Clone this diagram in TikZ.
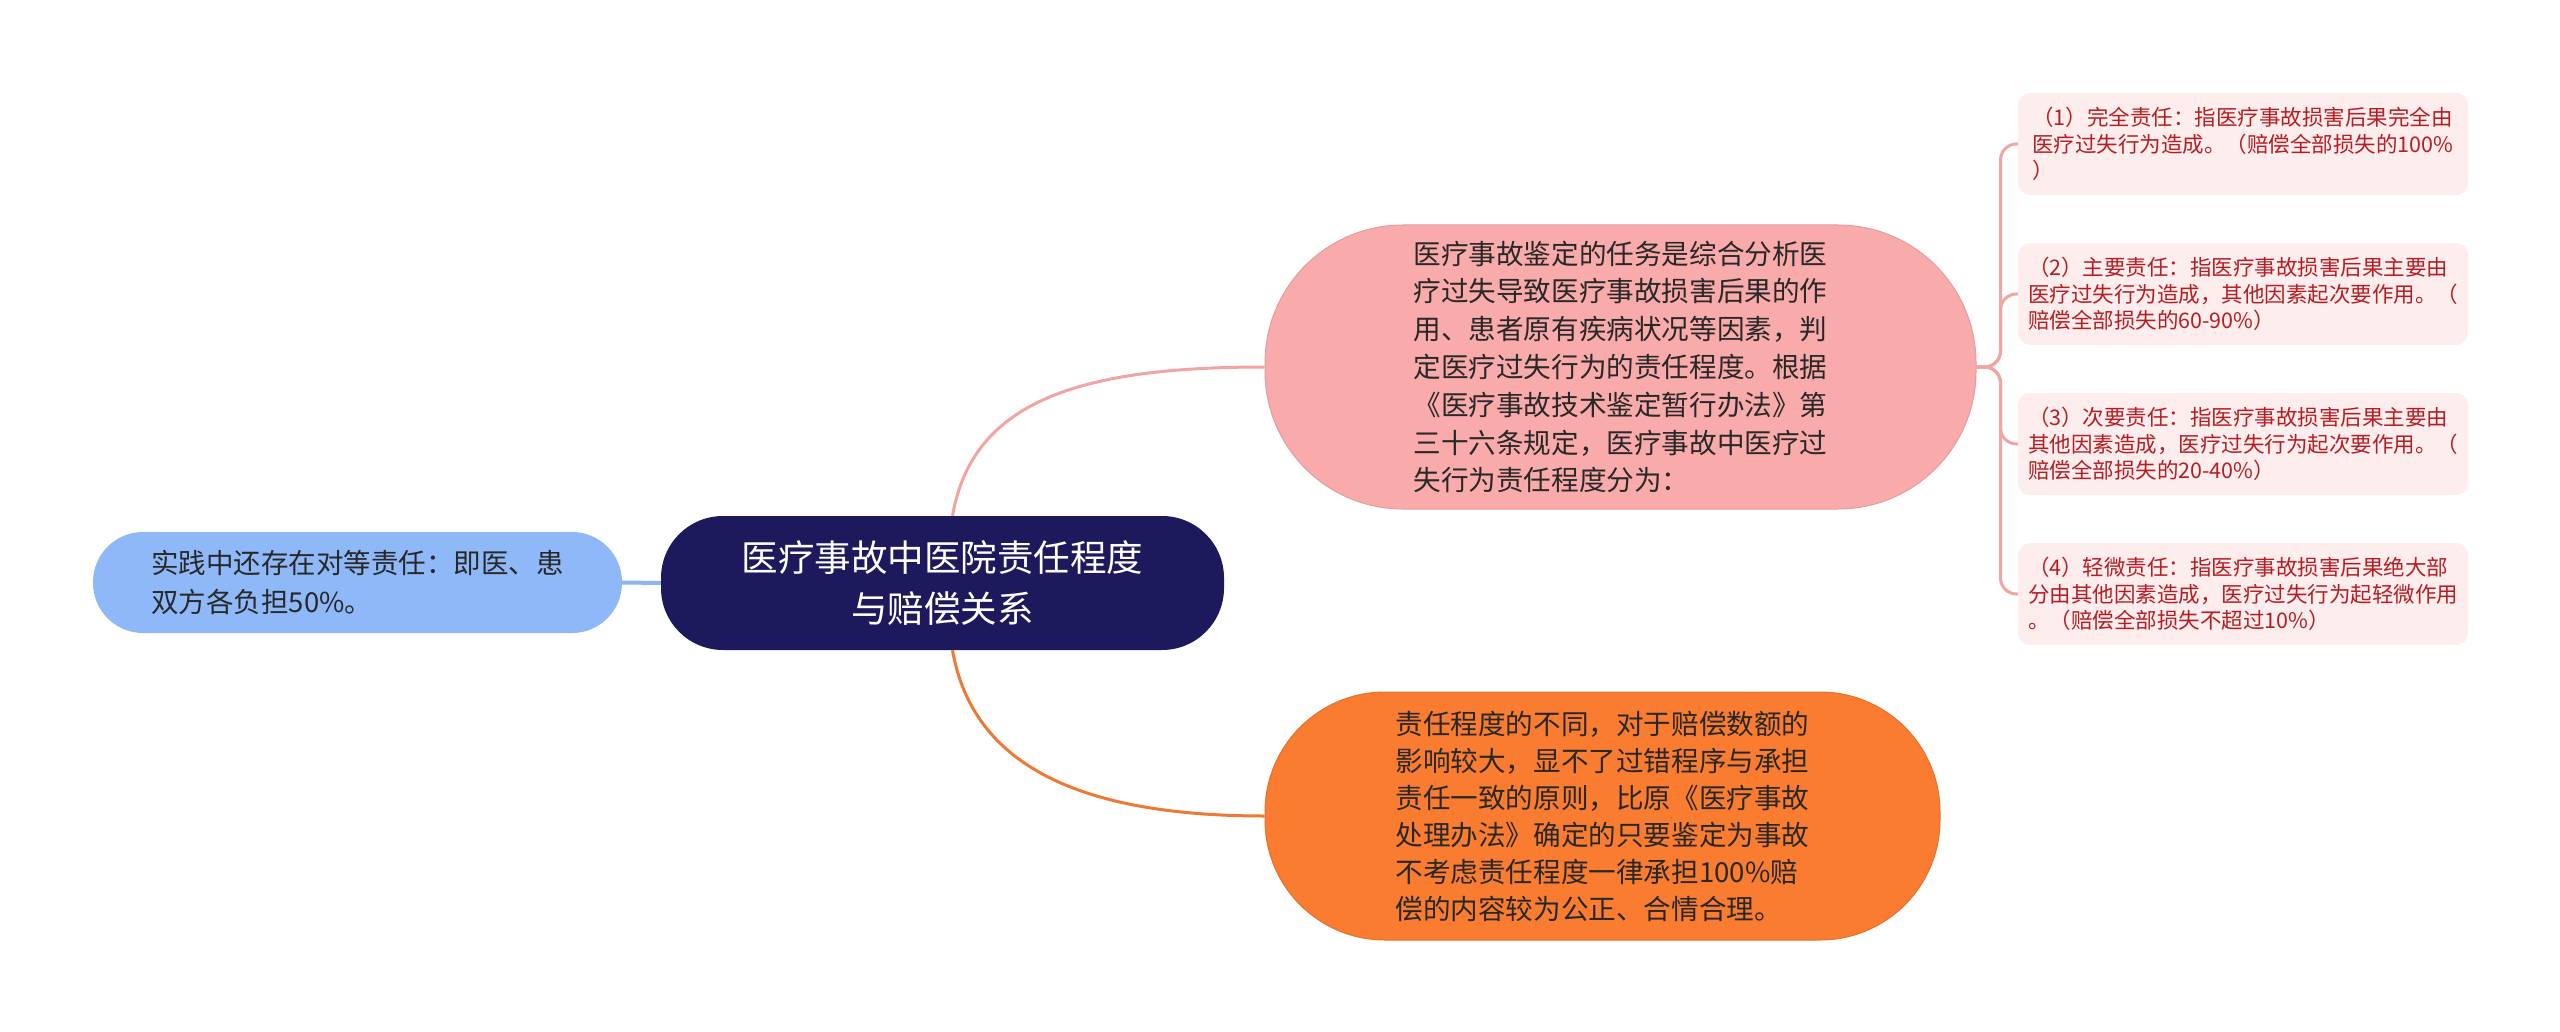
\documentclass[tikz,border=0pt]{standalone}
\usepackage{fontspec}
\setmainfont{Noto Sans CJK SC}
\definecolor{navy}{RGB}{28,26,92}
\definecolor{lblue}{RGB}{142,184,248}
\definecolor{pinkf}{RGB}{249,170,170}
\definecolor{orangef}{RGB}{249,124,48}
\definecolor{smallf}{RGB}{253,237,237}
\definecolor{redt}{RGB}{180,30,35}
\definecolor{pinkline}{RGB}{240,165,162}
\definecolor{orangeline}{RGB}{236,122,52}
\definecolor{blueline}{RGB}{140,182,240}
\definecolor{darkt}{RGB}{40,40,40}
\begin{document}
\begin{tikzpicture}[x=1pt,y=-1pt,
  box/.style={rectangle,inner sep=0pt,align=left},
  rootbox/.style={box,align=center,fill=navy,text=white,minimum width=563pt,minimum height=134pt,rounded corners=62pt,
     font=\fontsize{36.5}{51}\selectfont},
  leftbox/.style={box,fill=lblue,text=darkt,minimum width=529pt,minimum height=101pt,rounded corners=50pt,
     font=\fontsize{27.5}{39}\selectfont},
  pinkbox/.style={box,fill=pinkf,draw=pinkf!92!black,line width=1pt,text=darkt,minimum width=711pt,minimum height=284pt,rounded corners=138pt,
     font=\fontsize{27.6}{37.8}\selectfont},
  orangebox/.style={box,fill=orangef,draw=orangef!92!black,line width=1pt,text=darkt,minimum width=675pt,minimum height=248pt,rounded corners=120pt,
     font=\fontsize{27.6}{37}\selectfont},
  smallbox/.style={box,fill=smallf,text=redt,minimum width=450pt,minimum height=102pt,rounded corners=12pt,
     font=\fontsize{21.5}{26.7}\selectfont},
  conn/.style={line width=3pt}
]
\useasboundingbox (0,0) rectangle (2560,1032);

\node[rootbox] (root) at (942.5,583) {医疗事故中医院责任程度\\与赔偿关系};
\node[leftbox] (lft) at (357.5,582.5) {实践中还存在对等责任：即医、患\\双方各负担50\%。};
\node[pinkbox] (pk) at (1620.5,367) {医疗事故鉴定的任务是综合分析医\\疗过失导致医疗事故损害后果的作\\用、患者原有疾病状况等因素，判\\定医疗过失行为的责任程度。根据\\《医疗事故技术鉴定暂行办法》第\\三十六条规定，医疗事故中医疗过\\失行为责任程度分为：};
\node[orangebox] (og) at (1602.5,816) {责任程度的不同，对于赔偿数额的\\影响较大，显不了过错程序与承担\\责任一致的原则，比原《医疗事故\\处理办法》确定的只要鉴定为事故\\不考虑责任程度一律承担100\%赔\\偿的内容较为公正、合情合理。};

\node[smallbox] (s1) at (2243,144) {（1）完全责任：指医疗事故损害后果完全由\\医疗过失行为造成。（赔偿全部损失的100\%\\）};
\node[smallbox] (s2) at (2243,294) {（2）主要责任：指医疗事故损害后果主要由\\医疗过失行为造成，其他因素起次要作用。（\\赔偿全部损失的60-90\%）};
\node[smallbox] (s3) at (2243,444) {（3）次要责任：指医疗事故损害后果主要由\\其他因素造成，医疗过失行为起次要作用。（\\赔偿全部损失的20-40\%）};
\node[smallbox] (s4) at (2243,594) {（4）轻微责任：指医疗事故损害后果绝大部\\分由其他因素造成，医疗过失行为起轻微作用\\。（赔偿全部损失不超过10\%）};

% connectors
\draw[conn,blueline,line width=4pt] (lft.east) -- (root.west);
\draw[conn,pinkline] ([xshift=10pt]root.north) .. controls +(20,-115) and +(-185,0) .. (pk.west);
\draw[conn,orangeline] ([xshift=10pt]root.south) .. controls +(20,115) and +(-185,0) .. (og.west);

\coordinate (j) at ([xshift=24pt]pk.east);
\foreach \s in {s1,s2,s3,s4}{
  \draw[conn,pinkline,rounded corners=16pt] (pk.east) -- (j) |- (\s.west);
}
\end{tikzpicture}
\end{document}
